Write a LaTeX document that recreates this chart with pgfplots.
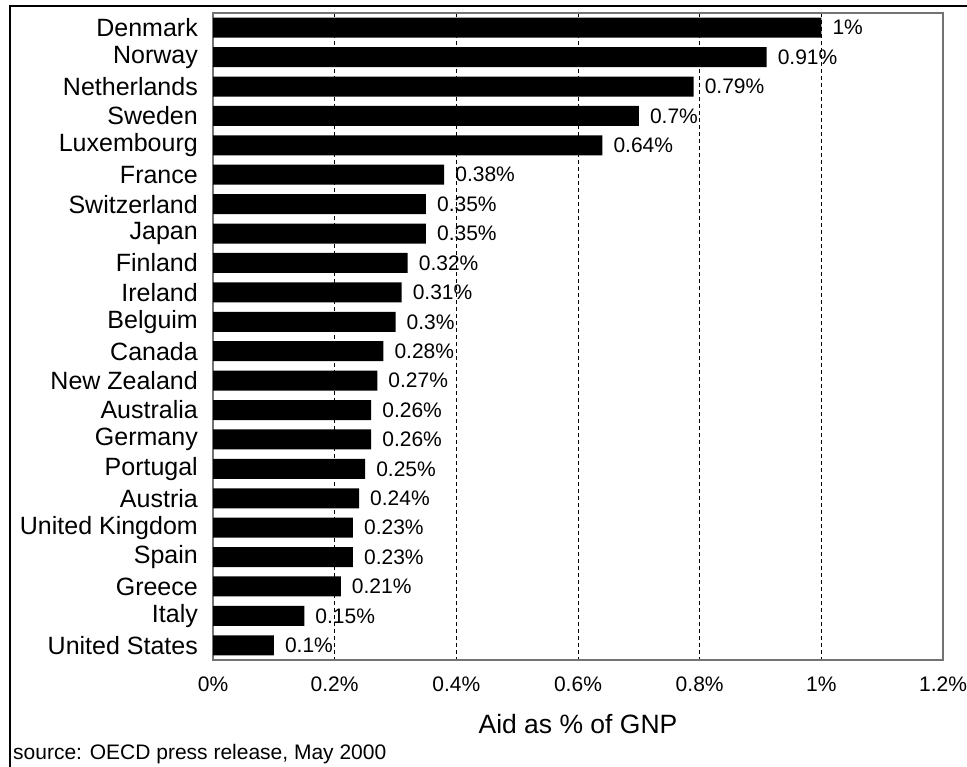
\documentclass[border=0pt]{standalone}
\usepackage{pgfplots}
\pgfplotsset{compat=1.18}
\usepackage{fontspec}
\setmainfont{Liberation Sans}

\begin{document}
\begin{tikzpicture}[x=1pt,y=1pt]
\path[use as bounding box] (0,0) rectangle (967,767);
% frame of the cropped picture
\draw[line width=2.5pt] (10,0) -- (10,761) -- (967,761);
\begin{axis}[
    at={(213pt,107pt)}, anchor=south west,
    scale only axis, width=730pt, height=647pt,
    xbar, bar width=20pt,
    xmin=0, xmax=1.2, ymin=-0.5, ymax=21.5, y dir=reverse,
    ytick={0,...,21},
    yticklabels={Denmark,Norway,Netherlands,Sweden,Luxembourg,France,Switzerland,Japan,Finland,Ireland,Belguim,Canada,New Zealand,Australia,Germany,Portugal,Austria,United Kingdom,Spain,Greece,Italy,United States},
    xtick={0,0.2,0.4,0.6,0.8,1,1.2},
    xticklabels={0\%,0.2\%,0.4\%,0.6\%,0.8\%,1\%,1.2\%},
    major tick length=0pt,
    yticklabel style={font=\fontsize{25}{29}\selectfont, anchor=east, inner sep=0pt, xshift=-15pt},
    xticklabel style={font=\fontsize{21}{24}\selectfont, anchor=north, inner sep=0pt, yshift=-17pt},
    xlabel={Aid as \% of GNP},
    xlabel style={font=\fontsize{26.5}{30}\selectfont, at={(axis description cs:0.5,0)}, anchor=base, inner sep=0pt, yshift=-73pt},
    xmajorgrids,
    grid style={black, dash pattern=on 4pt off 3pt, line width=1pt},
    axis line style={draw=gray!90!black, line width=1.5pt},
    point meta=x,
    nodes near coords={\pgfmathprintnumber{\pgfplotspointmeta}\%},
    nodes near coords style={font=\fontsize{21}{24}\selectfont, anchor=west, inner sep=0pt, xshift=11pt, /pgf/number format/assume math mode=true},
]
\addplot[fill=black, draw=none] coordinates {
    (1,0) (0.91,1) (0.79,2) (0.7,3) (0.64,4) (0.38,5) (0.35,6) (0.35,7)
    (0.32,8) (0.31,9) (0.3,10) (0.28,11) (0.27,12) (0.26,13) (0.26,14)
    (0.25,15) (0.24,16) (0.23,17) (0.23,18) (0.21,19) (0.15,20) (0.1,21)
};
\end{axis}
\node[anchor=base west, inner sep=0pt, font=\fontsize{21}{25}\selectfont] at (13,7) {source: OECD press release, May 2000};
\end{tikzpicture}
\end{document}
